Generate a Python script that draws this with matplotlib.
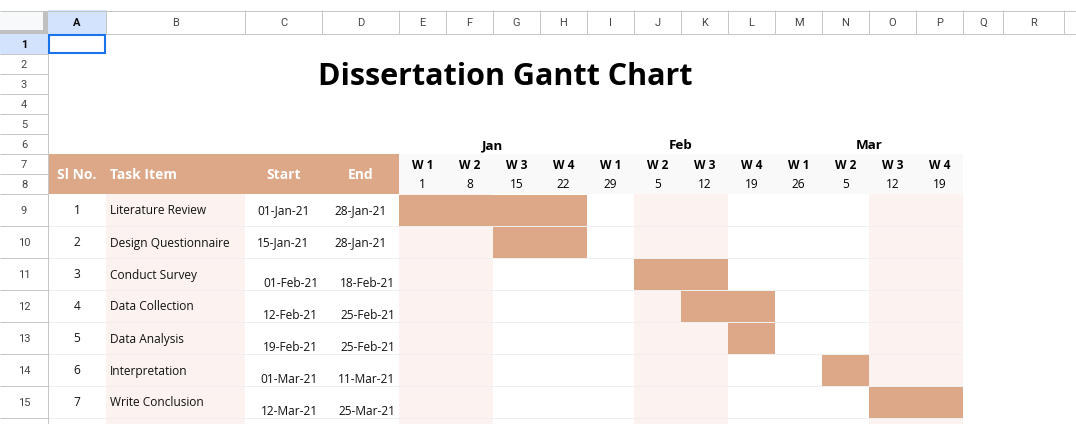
import pandas as pd
import matplotlib.pyplot as plt
from matplotlib.patches import Rectangle

# Task data
sl_no = [1, 2, 3, 4, 5, 6, 7]
tasks = ["Literature Review", "Design Questionnaire", "Conduct Survey", "Data Collection",
         "Data Analysis", "Interpretation", "Write Conclusion"]
start_dates = ["01-Jan-21", "15-Jan-21", "01-Feb-21", "12-Feb-21", "19-Feb-21", "01-Mar-21", "12-Mar-21"]
end_dates = ["28-Jan-21", "28-Jan-21", "18-Feb-21", "25-Feb-21", "25-Feb-21", "11-Mar-21", "25-Mar-21"]

# Timeline header
months = ["Jan", "Feb", "Mar"]
week_labels = ["W 1", "W 2", "W 3", "W 4", "W 1", "W 2", "W 3", "W 4", "W 1", "W 2", "W 3", "W 4"]
week_starts = ["01-Jan-21", "08-Jan-21", "15-Jan-21", "22-Jan-21", "29-Jan-21", "05-Feb-21",
               "12-Feb-21", "19-Feb-21", "26-Feb-21", "05-Mar-21", "12-Mar-21", "19-Mar-21"]

# Spreadsheet chrome
col_letters = list("ABCDEFGHIJKLMNOPQR")
row_numbers = list(range(1, 16))

# -------- layout (pixels) --------
W, H = 1076, 424
TAN = "#dca887"
PINK = "#fcf3f0"
CORNER = "#f8f9fa"
HDR_LINE = "#c4c7c5"
GRID = "#efefef"
SEL = "#d3e3fd"
font = ["Open Sans", "DejaVu Sans"]
ui_font = ["Roboto", "DejaVu Sans"]

week_w = 47
gantt_x0 = 399
col_edges = [48, 106, 245, 322, 399] + [gantt_x0 + week_w * i for i in range(1, 13)] + [1003, 1064]
row_edges = [34 + 20 * i for i in range(9)] + [194 + 32 * i for i in range(1, 8)]

fig = plt.figure(figsize=(W / 100, H / 100), dpi=100)
ax = fig.add_axes([0, 0, 1, 1])
ax.set_xlim(0, W)
ax.set_ylim(H, 0)
ax.axis("off")


def rect(x0, y0, x1, y1, color, z=1, **kw):
    ax.add_patch(Rectangle((x0, y0), x1 - x0, y1 - y0, facecolor=color, edgecolor="none", zorder=z, **kw))


def hline(y, x0, x1, color, z=2, lw=0.72):
    ax.plot([x0, x1], [y, y], color=color, lw=lw, zorder=z, solid_capstyle="butt")


def vline(x, y0, y1, color, z=2, lw=0.72):
    ax.plot([x, x], [y0, y1], color=color, lw=lw, zorder=z, solid_capstyle="butt")


# column header bar
rect(48, 10, 106, 34, SEL, z=1.5)
hline(10.5, 0, W, HDR_LINE)
hline(33.5, 48, W, HDR_LINE)
for x in col_edges[1:]:
    vline(x - 0.5, 10, 34, HDR_LINE)
centers = [(a + b) / 2 for a, b in zip(col_edges[:-1], col_edges[1:])]
for i, letter in enumerate(col_letters):
    ax.text(centers[i], 26, letter, ha="center", va="baseline", fontsize=8, family=ui_font,
            color="#0b0b0b" if letter == "A" else "#444746", fontweight="bold" if letter == "A" else "normal",
            zorder=3)

# row header column
rect(0, 34, 48, 54, SEL, z=1.5)
vline(47.5, 34, H, HDR_LINE)
for y in row_edges[1:]:
    hline(y - 0.5, 0, 48, HDR_LINE)
row_centers = [(a + b) / 2 for a, b in zip(row_edges[:-1], row_edges[1:])]
for i, n in enumerate(row_numbers):
    ax.text(24, row_centers[i] + 4, str(n), ha="center", va="baseline", fontsize=8,
            family=ui_font, color="#0b0b0b" if n == 1 else "#444746",
            fontweight="bold" if n == 1 else "normal", zorder=3)

# top-left corner with freeze handles
rect(0, 11, 48, 34, CORNER)
rect(0, 30, 48, 34, "#c0c0c0", z=2.5)
rect(43, 11, 48, 34, "#c0c0c0", z=2.5)

# title
ax.text(505.5, 85, "Dissertation Gantt Chart", ha="center", va="baseline", fontsize=22,
        fontweight="bold", family=font, color="black", zorder=3)

# table header
rect(48, 154, 399, 194, TAN)
rect(399, 154, 963, 194, "#f9f9f9")
hdr = dict(va="baseline", fontsize=10, fontweight="bold", family=font, color="white", zorder=3)
ax.text(77, 179, "Sl No.", ha="center", **hdr)
ax.text(110, 179, "Task Item", ha="left", **hdr)
ax.text(283.5, 179, "Start", ha="center", **hdr)
ax.text(360.5, 179, "End", ha="center", **hdr)

for m, month in enumerate(months):
    ax.text(gantt_x0 + week_w * (4 * m + 2), 149, month, ha="center", va="baseline", fontsize=9.6,
            fontweight="bold", family=font, color="black", zorder=3)
week_dates = pd.to_datetime(week_starts, format="%d-%b-%y")
for i, (lab, d) in enumerate(zip(week_labels, week_dates)):
    cx = gantt_x0 + week_w * (i + 0.5)
    ax.text(cx, 169, lab, ha="center", va="baseline", fontsize=8.6, fontweight="bold",
            family=font, color="black", zorder=3)
    ax.text(cx, 188, str(d.day), ha="center", va="baseline", fontsize=8.6,
            family=font, color="black", zorder=3)

# body shading
body_top = 194
rect(106, body_top, 245, H, PINK)
for i in [0, 1, 5, 6, 10, 11]:
    rect(gantt_x0 + week_w * i, body_top, gantt_x0 + week_w * (i + 1), H, PINK)
for y in row_edges[9:]:
    hline(y - 0.5, 48, 963, GRID, z=1.2)

# bars
starts = pd.to_datetime(start_dates, format="%d-%b-%y")
ends = pd.to_datetime(end_dates, format="%d-%b-%y")
task_rows = row_edges[8:15]
for k in range(len(tasks)):
    top = task_rows[k]
    weeks = [i for i, d in enumerate(week_dates) if starts[k] <= d <= ends[k]]
    ax.barh(top + 16.5, width=week_w * len(weeks), left=gantt_x0 + week_w * weeks[0], height=31,
            color=TAN, zorder=2.2)

    cy = top + 16
    body = dict(fontsize=8.6, family=font, color="#111111", zorder=3)
    ax.text(77, cy + 4.5, str(sl_no[k]), ha="center", va="baseline", **body)
    ax.text(110, cy + 4.5, tasks[k], ha="left", va="baseline", **body)
    if k < 2:
        ax.text(283.5, cy + 4.5, start_dates[k], ha="center", va="baseline", **body)
        ax.text(360.5, cy + 4.5, end_dates[k], ha="center", va="baseline", **body)
    else:
        ax.text(318, top + 29, start_dates[k], ha="right", va="baseline", **body)
        ax.text(395, top + 29, end_dates[k], ha="right", va="baseline", **body)

# selected cell A1
ax.add_patch(Rectangle((49, 35), 56, 18, facecolor="none", edgecolor="#1a73e8", lw=1.5, zorder=4))

plt.savefig("out.png", dpi=100)
